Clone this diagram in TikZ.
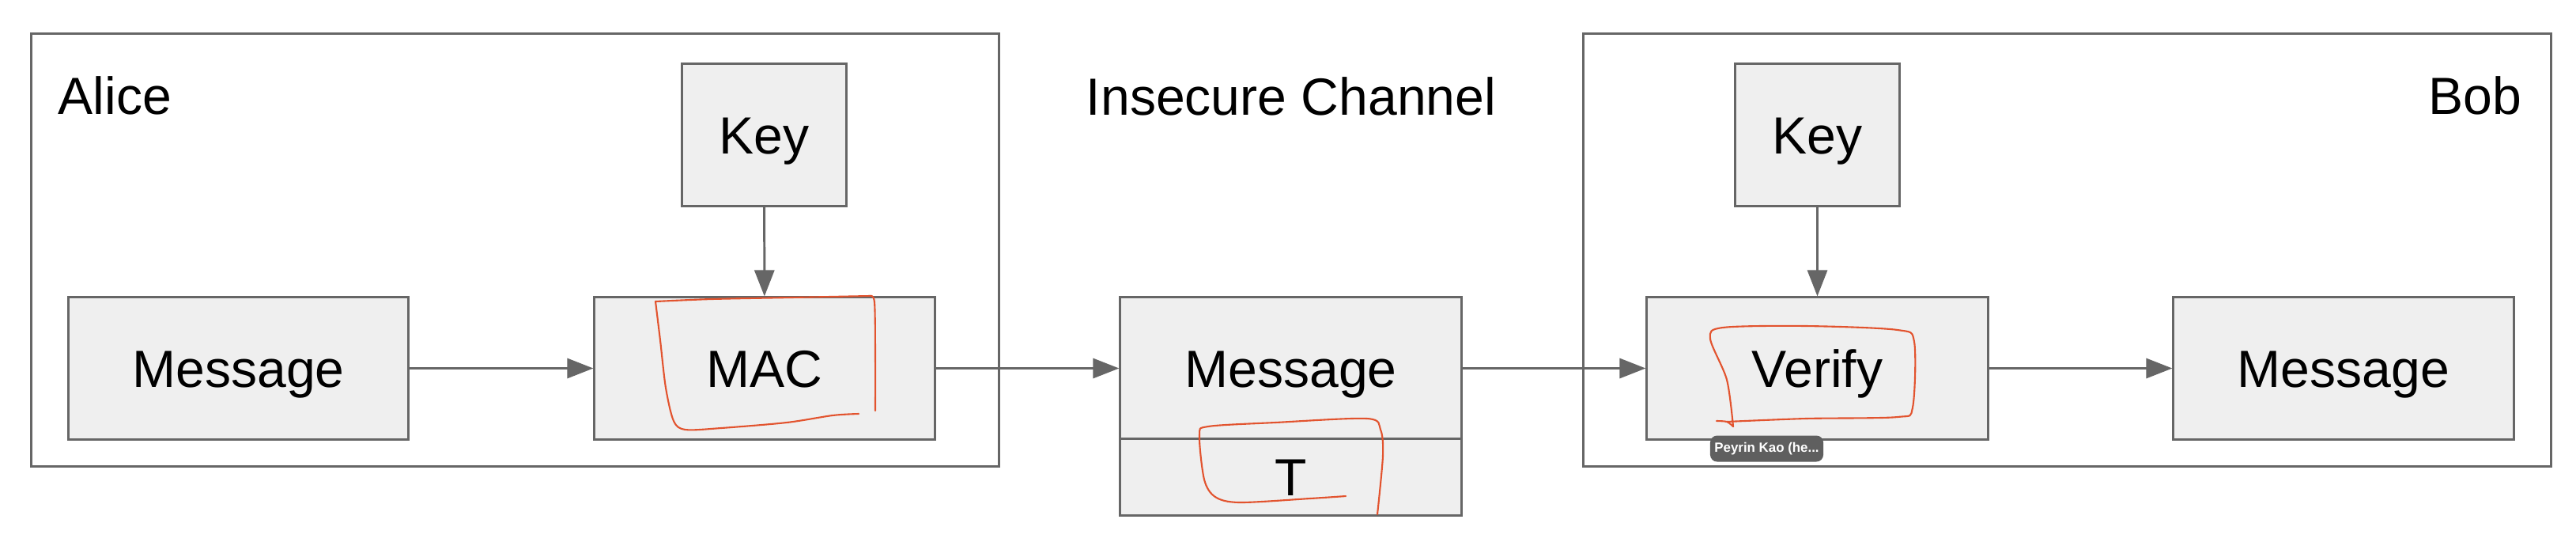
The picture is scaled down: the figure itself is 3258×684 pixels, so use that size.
\documentclass[tikz,border=0pt]{standalone}
\usepackage{fontspec}
\setmainfont{Liberation Sans}
\usetikzlibrary{arrows.meta}
\definecolor{edge}{HTML}{666666}
\definecolor{boxfill}{HTML}{EFEFEF}
\definecolor{pen}{HTML}{E2532E}
\definecolor{tipgray}{HTML}{5F5F5F}
\begin{document}
\begin{tikzpicture}[x=0.01cm,y=-0.01cm,
  container/.style={draw=edge, line width=0.85pt, fill=white, minimum height=5.46cm, minimum width=12.23cm, inner sep=0pt},
  blk/.style={draw=edge, line width=0.85pt, fill=boxfill, font=\fontsize{18.8}{22}\selectfont, text height=0.47cm, text depth=0pt, inner sep=0pt, minimum height=1.79cm},
  lbl/.style={font=\fontsize{18.8}{22}\selectfont, inner sep=0pt},
  conn/.style={draw=edge, line width=0.85pt, -{Triangle[length=0.33cm,width=0.25cm]}},
  redpen/.style={draw=pen, line width=0.6pt, line cap=round, line join=round},
  tipbox/.style={fill=tipgray, rounded corners=2.5pt, text=white, font=\fontsize{4.8}{6}\selectfont\bfseries, minimum width=1.43cm, minimum height=0.33cm, inner sep=0pt}
]
\useasboundingbox (0,0) rectangle (3258,684);

% containers
\node[container] (alice) at (651.5,316) {};
\node[container] (bob) at (2614.5,316) {};

% labels
\node[lbl, anchor=base west] (alicelbl) at (73,144) {Alice};
\node[lbl, anchor=base east] (boblbl) at (3190,144) {Bob};
\node[lbl, anchor=base] (chanlbl) at (1633,145) {Insecure Channel};

% blocks
\node[blk, minimum width=2.08cm] (keyA) at (966.5,170.5) {Key};
\node[blk, minimum width=4.29cm] (msgA) at (301.5,465.5) {Message};
\node[blk, minimum width=4.30cm] (mac) at (967,465.5) {MAC};
\node[blk, minimum width=4.31cm] (msgC) at (1632.5,465.5) {Message};
\node[blk, minimum width=4.31cm, minimum height=0.96cm] (tag) at (1632.5,603) {T};
\node[blk, minimum width=2.08cm] (keyB) at (2298.5,170.5) {Key};
\node[blk, minimum width=4.31cm] (verify) at (2298.5,465.5) {Verify};
\node[blk, minimum width=4.30cm] (msgB) at (2964,465.5) {Message};

% connectors
\draw[conn] (keyA) -- (mac);
\draw[conn] (msgA) -- (mac);
\draw[conn] (mac) -- (msgC);
\draw[conn] (msgC) -- (verify);
\draw[conn] (keyB) -- (verify);
\draw[conn] (verify) -- (msgB);

% hand-drawn annotations
\draw[redpen] plot[smooth, tension=0.5] coordinates {(1086,523) (1053,525) (995,534) (912,541) (867,543) (852,532) (842,490) (835,430) (829,381)};
\draw[redpen] plot[smooth, tension=0.5] coordinates {(829,381) (900,378) (1000,376) (1100,374)};
\draw[redpen] plot[smooth, tension=0.5] coordinates {(1100,374) (1106,382) (1107,450) (1107,519)};

\draw[redpen] plot[smooth, tension=0.5] coordinates {(1702,627) (1657,630) (1568,635) (1537,628) (1523,606) (1517,550) (1528,539) (1613,534) (1729,529) (1746,543) (1749,576) (1742,650)};

\draw[redpen] plot[smooth, tension=0.5] coordinates {(2171,532) (2184,533) (2192,539)};
\draw[redpen] plot[smooth, tension=0.5] coordinates {(2192,539) (2184,480) (2163,428) (2179,414) (2284,412) (2400,417) (2421,432) (2419,515) (2400,527) (2284,529) (2184,533)};

% tooltip
\node[tipbox] (tip) at (2234.5,567) {Peyrin Kao (he...};
\end{tikzpicture}
\end{document}
